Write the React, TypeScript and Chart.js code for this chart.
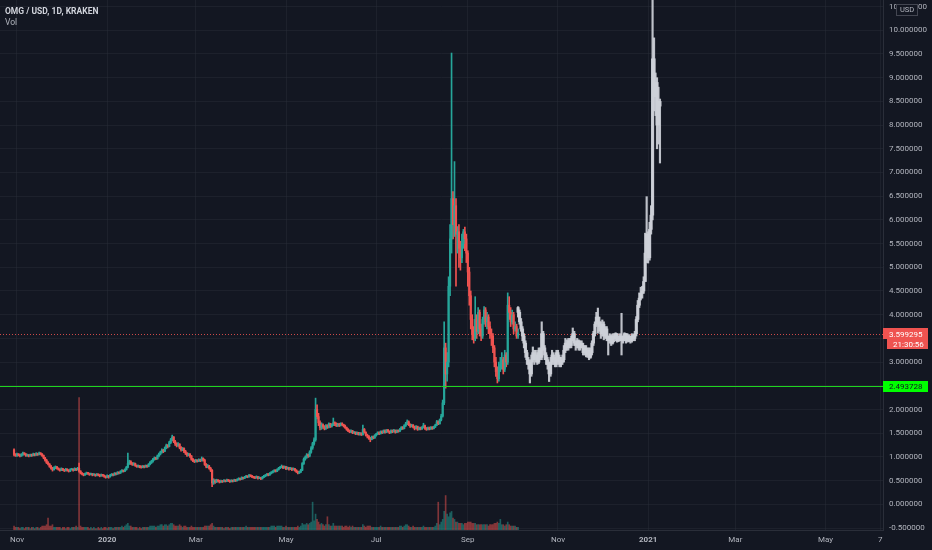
import React, { useEffect, useRef } from "react";
import { Chart, registerables } from "chart.js";
Chart.register(...registerables);

// Days are counted from 1 Nov 2019 (day 0).
const FIRST_DAY = -2;
const FIRST_OPEN = 1.15;
const closes = [
  1.05, 1.03, 1.06, 1.04, 1.02, 1.05, 1.08, 1.06, 1.03, 1.04,
  1.02, 1.05, 1.03, 1.06, 1.04, 1.07, 1.05, 1.08, 1.06, 1.03,
  0.98, 0.93, 0.88, 0.85, 0.80, 0.76, 0.73, 0.77, 0.79, 0.76,
  0.74, 0.72, 0.75, 0.73, 0.71, 0.74, 0.72, 0.70, 0.73, 0.74,
  0.72, 0.75, 0.73, 0.76, 0.70, 0.66, 0.64, 0.62, 0.64, 0.66,
  0.65, 0.63, 0.64, 0.62, 0.63, 0.61, 0.63, 0.62, 0.60, 0.62,
  0.61, 0.59, 0.57, 0.60, 0.58, 0.61, 0.63, 0.62, 0.65, 0.64,
  0.67, 0.66, 0.69, 0.71, 0.70, 0.73, 0.78, 0.86, 0.90, 0.87,
  0.84, 0.86, 0.82, 0.80, 0.81, 0.79, 0.78, 0.80, 0.79, 0.81,
  0.80, 0.84, 0.88, 0.91, 0.95, 0.98, 0.96, 1.02, 1.06, 1.10,
  1.14, 1.12, 1.19, 1.24, 1.22, 1.30, 1.36, 1.42, 1.33, 1.28,
  1.24, 1.27, 1.20, 1.15, 1.18, 1.12, 1.08, 1.04, 1.06, 1.02,
  0.95, 0.92, 0.90, 0.93, 0.91, 0.94, 0.92, 0.97, 0.93, 0.84,
  0.80, 0.81, 0.76, 0.72, 0.45, 0.50, 0.47, 0.51, 0.49, 0.47,
  0.49, 0.48, 0.50, 0.49, 0.51, 0.50, 0.48, 0.50, 0.49, 0.51,
  0.50, 0.52, 0.54, 0.53, 0.56, 0.55, 0.57, 0.59, 0.58, 0.61,
  0.60, 0.58, 0.57, 0.56, 0.58, 0.55, 0.56, 0.54, 0.57, 0.59,
  0.61, 0.63, 0.62, 0.65, 0.67, 0.69, 0.71, 0.70, 0.73, 0.76,
  0.78, 0.80, 0.77, 0.79, 0.75, 0.77, 0.74, 0.76, 0.73, 0.75,
  0.72, 0.69, 0.66, 0.68, 0.72, 0.86, 0.95, 0.99, 1.04, 1.02,
  1.10, 1.19, 1.28, 1.36, 2.00, 1.85, 1.72, 1.62, 1.68, 1.64,
  1.60, 1.66, 1.63, 1.70, 1.65, 1.68, 1.72, 1.70, 1.66, 1.69,
  1.67, 1.70, 1.68, 1.65, 1.62, 1.58, 1.55, 1.53, 1.55, 1.51,
  1.52, 1.49, 1.51, 1.48, 1.50, 1.47, 1.58, 1.52, 1.46, 1.44,
  1.40, 1.37, 1.42, 1.40, 1.45, 1.48, 1.51, 1.49, 1.53, 1.51,
  1.55, 1.52, 1.56, 1.54, 1.51, 1.55, 1.53, 1.56, 1.52, 1.55,
  1.54, 1.58, 1.62, 1.60, 1.66, 1.70, 1.74, 1.68, 1.65, 1.67,
  1.63, 1.60, 1.64, 1.58, 1.61, 1.59, 1.62, 1.66, 1.60, 1.58,
  1.61, 1.59, 1.62, 1.60, 1.63, 1.67, 1.74, 1.70, 1.78, 1.86,
  2.14, 3.30, 2.75, 3.00, 4.60, 5.60, 6.45, 5.90, 6.30, 5.70,
  5.75, 5.40, 5.20, 5.50, 5.75, 5.60, 5.30, 4.90, 4.40, 3.90,
  3.60, 3.50, 3.90, 3.65, 4.05, 3.70, 3.55, 3.90, 4.10, 3.85,
  3.95, 3.75, 3.60, 3.55, 3.30, 3.00, 2.80, 2.65, 2.90, 2.95,
  3.05, 2.85, 3.15, 3.00, 4.20, 4.05, 3.85, 4.00, 3.70, 3.75,
  3.55, 3.62,
];
const highs = [
  1.17, 1.07, 1.08, 1.07, 1.06, 1.07, 1.10, 1.09, 1.07, 1.06,
  1.05, 1.06, 1.06, 1.08, 1.07, 1.09, 1.08, 1.10, 1.09, 1.07,
  1.04, 0.99, 0.95, 0.90, 0.86, 0.82, 0.78, 0.79, 0.81, 0.80,
  0.77, 0.75, 0.77, 0.76, 0.74, 0.76, 0.75, 0.73, 0.75, 0.76,
  0.75, 0.77, 0.76, 0.78, 0.87, 0.71, 0.67, 0.65, 0.66, 0.68,
  0.67, 0.66, 0.66, 0.65, 0.65, 0.64, 0.65, 0.64, 0.63, 0.64,
  0.63, 0.62, 0.60, 0.62, 0.61, 0.63, 0.65, 0.64, 0.67, 0.66,
  0.69, 0.68, 0.71, 0.73, 0.72, 0.75, 0.80, 1.08, 0.93, 0.92,
  0.88, 0.88, 0.87, 0.83, 0.83, 0.82, 0.81, 0.82, 0.81, 0.83,
  0.83, 0.86, 0.90, 0.93, 0.97, 1.00, 0.99, 1.04, 1.08, 1.12,
  1.17, 1.16, 1.21, 1.27, 1.26, 1.33, 1.39, 1.46, 1.43, 1.35,
  1.30, 1.30, 1.28, 1.22, 1.20, 1.19, 1.14, 1.09, 1.08, 1.07,
  1.03, 0.97, 0.94, 0.95, 0.94, 0.96, 0.95, 1.00, 0.98, 0.95,
  0.86, 0.84, 0.82, 0.78, 0.73, 0.54, 0.52, 0.53, 0.52, 0.51,
  0.51, 0.50, 0.52, 0.51, 0.53, 0.52, 0.51, 0.52, 0.51, 0.53,
  0.52, 0.54, 0.56, 0.55, 0.58, 0.57, 0.59, 0.61, 0.60, 0.63,
  0.62, 0.61, 0.59, 0.58, 0.60, 0.59, 0.58, 0.57, 0.59, 0.61,
  0.63, 0.65, 0.65, 0.67, 0.69, 0.71, 0.73, 0.73, 0.75, 0.78,
  0.80, 0.83, 0.81, 0.81, 0.80, 0.79, 0.78, 0.78, 0.77, 0.77,
  0.76, 0.73, 0.70, 0.70, 0.74, 0.88, 0.98, 1.02, 1.07, 1.06,
  1.13, 1.22, 1.31, 1.40, 2.24, 2.10, 1.92, 1.76, 1.72, 1.70,
  1.66, 1.68, 1.68, 1.72, 1.71, 1.70, 1.82, 1.74, 1.72, 1.71,
  1.71, 1.72, 1.72, 1.69, 1.67, 1.63, 1.60, 1.57, 1.57, 1.56,
  1.54, 1.53, 1.53, 1.52, 1.52, 1.51, 1.67, 1.60, 1.53, 1.48,
  1.45, 1.41, 1.44, 1.44, 1.47, 1.50, 1.53, 1.53, 1.55, 1.55,
  1.57, 1.57, 1.58, 1.58, 1.55, 1.57, 1.57, 1.58, 1.57, 1.57,
  1.57, 1.60, 1.64, 1.64, 1.68, 1.73, 1.78, 1.76, 1.70, 1.69,
  1.68, 1.65, 1.66, 1.65, 1.63, 1.63, 1.64, 1.71, 1.67, 1.62,
  1.63, 1.63, 1.64, 1.64, 1.65, 1.69, 1.77, 1.76, 1.80, 1.90,
  2.20, 3.85, 3.40, 3.20, 4.80, 5.90, 9.52, 6.60, 7.23, 6.45,
  5.86, 5.90, 5.55, 5.70, 5.80, 5.85, 5.70, 5.35, 5.00, 4.50,
  4.00, 3.75, 4.38, 4.00, 4.15, 4.10, 3.80, 3.95, 4.17, 4.15,
  4.05, 4.00, 3.85, 3.70, 3.60, 3.35, 3.10, 2.90, 3.00, 3.10,
  3.20, 3.10, 3.25, 3.20, 4.46, 4.38, 4.15, 4.10, 4.05, 3.85,
  3.80, 3.70,
];
const lows = [
  1.02, 1.01, 1.01, 1.02, 1.00, 1.01, 1.03, 1.04, 1.01, 1.01,
  1.00, 1.01, 1.01, 1.02, 1.02, 1.03, 1.03, 1.04, 1.04, 1.01,
  0.96, 0.91, 0.86, 0.83, 0.78, 0.74, 0.70, 0.72, 0.75, 0.74,
  0.72, 0.70, 0.71, 0.71, 0.69, 0.70, 0.70, 0.68, 0.69, 0.72,
  0.70, 0.71, 0.71, 0.72, 0.68, 0.64, 0.62, 0.60, 0.61, 0.63,
  0.63, 0.61, 0.62, 0.60, 0.61, 0.59, 0.60, 0.60, 0.58, 0.59,
  0.59, 0.57, 0.55, 0.56, 0.55, 0.57, 0.60, 0.60, 0.61, 0.62,
  0.63, 0.64, 0.65, 0.68, 0.68, 0.69, 0.72, 0.77, 0.84, 0.84,
  0.82, 0.82, 0.80, 0.78, 0.78, 0.77, 0.76, 0.77, 0.77, 0.78,
  0.78, 0.79, 0.83, 0.86, 0.89, 0.93, 0.94, 0.95, 1.00, 1.04,
  1.08, 1.09, 1.11, 1.17, 1.19, 1.21, 1.28, 1.34, 1.30, 1.24,
  1.21, 1.22, 1.17, 1.12, 1.13, 1.09, 1.05, 1.01, 1.02, 0.99,
  0.93, 0.90, 0.88, 0.89, 0.89, 0.90, 0.90, 0.91, 0.91, 0.82,
  0.77, 0.77, 0.74, 0.69, 0.37, 0.42, 0.44, 0.46, 0.47, 0.45,
  0.46, 0.46, 0.47, 0.47, 0.48, 0.48, 0.46, 0.47, 0.47, 0.48,
  0.48, 0.49, 0.51, 0.51, 0.52, 0.53, 0.54, 0.56, 0.56, 0.57,
  0.58, 0.56, 0.55, 0.54, 0.55, 0.53, 0.54, 0.52, 0.53, 0.56,
  0.58, 0.60, 0.60, 0.61, 0.64, 0.66, 0.68, 0.68, 0.69, 0.72,
  0.75, 0.77, 0.75, 0.76, 0.73, 0.74, 0.72, 0.73, 0.71, 0.72,
  0.70, 0.67, 0.64, 0.65, 0.67, 0.71, 0.84, 0.93, 0.97, 0.99,
  1.00, 1.08, 1.16, 1.25, 1.33, 1.80, 1.66, 1.57, 1.58, 1.60,
  1.57, 1.58, 1.60, 1.61, 1.62, 1.63, 1.66, 1.66, 1.64, 1.64,
  1.64, 1.65, 1.66, 1.63, 1.60, 1.56, 1.53, 1.51, 1.51, 1.49,
  1.49, 1.47, 1.47, 1.46, 1.46, 1.45, 1.46, 1.50, 1.44, 1.40,
  1.37, 1.32, 1.36, 1.38, 1.39, 1.44, 1.47, 1.47, 1.48, 1.49,
  1.50, 1.50, 1.51, 1.52, 1.49, 1.50, 1.51, 1.52, 1.50, 1.51,
  1.52, 1.53, 1.57, 1.58, 1.59, 1.64, 1.68, 1.66, 1.62, 1.63,
  1.61, 1.57, 1.59, 1.56, 1.57, 1.57, 1.58, 1.61, 1.58, 1.56,
  1.57, 1.57, 1.58, 1.58, 1.59, 1.62, 1.66, 1.68, 1.69, 1.76,
  1.84, 2.10, 2.45, 2.60, 2.90, 4.40, 5.30, 5.60, 5.65, 4.60,
  5.30, 5.00, 4.94, 5.10, 5.40, 5.35, 5.10, 4.60, 4.20, 3.70,
  3.47, 3.40, 3.45, 3.50, 3.60, 3.55, 3.45, 3.50, 3.80, 3.75,
  3.70, 3.60, 3.50, 3.35, 3.20, 2.90, 2.70, 2.56, 2.60, 2.80,
  2.85, 2.75, 2.80, 2.90, 2.95, 3.90, 3.75, 3.80, 3.60, 3.65,
  3.50, 3.50,
];
const volumes = [
  3, 2, 2, 2, 1, 2, 2, 1, 2, 2,
  2, 1, 2, 2, 1, 2, 2, 1, 2, 3,
  3, 3, 4, 9, 3, 3, 4, 2, 2, 2,
  2, 2, 1, 2, 2, 1, 2, 2, 1, 2,
  2, 2, 3, 2, 100, 3, 2, 2, 2, 2,
  2, 1, 2, 1, 2, 1, 1, 2, 1, 2,
  1, 2, 2, 1, 2, 2, 2, 1, 2, 2,
  2, 2, 2, 3, 2, 3, 4, 5, 3, 3,
  2, 2, 2, 2, 1, 2, 1, 2, 2, 2,
  2, 2, 3, 3, 3, 3, 2, 3, 3, 4,
  4, 3, 4, 4, 3, 4, 5, 5, 4, 3,
  3, 3, 4, 3, 2, 3, 3, 2, 2, 2,
  3, 2, 2, 2, 2, 2, 2, 2, 2, 3,
  3, 3, 3, 4, 5, 3, 2, 2, 2, 2,
  2, 2, 1, 2, 2, 2, 1, 2, 2, 2,
  2, 2, 2, 2, 2, 2, 2, 3, 2, 2,
  2, 2, 2, 2, 2, 2, 2, 2, 2, 2,
  2, 2, 2, 2, 3, 3, 3, 2, 3, 3,
  3, 3, 2, 2, 3, 2, 2, 2, 2, 2,
  2, 2, 3, 2, 3, 5, 4, 4, 5, 4,
  5, 6, 21, 7, 12, 8, 6, 4, 5, 4,
  3, 4, 10, 4, 3, 3, 5, 3, 3, 3,
  3, 3, 3, 2, 3, 3, 2, 3, 2, 3,
  2, 2, 2, 2, 2, 2, 4, 3, 2, 3,
  3, 3, 2, 2, 2, 2, 2, 2, 3, 2,
  2, 2, 2, 2, 2, 2, 2, 2, 2, 2,
  2, 3, 3, 2, 3, 4, 4, 3, 2, 2,
  3, 2, 2, 2, 2, 2, 2, 3, 2, 2,
  2, 2, 2, 2, 2, 3, 5, 21, 4, 6,
  8, 14, 26, 12, 10, 13, 14, 9, 8, 6,
  6, 5, 5, 5, 4, 5, 5, 6, 6, 6,
  5, 5, 5, 4, 4, 4, 4, 4, 4, 4,
  4, 3, 4, 4, 4, 5, 5, 6, 5, 8,
  4, 4, 3, 4, 6, 4, 3, 3, 3, 3,
  2, 2,
];

// Grey bars pattern drawn on the chart (continuation to Jan 2021)
const GRAY_FIRST_DAY = 339;
const GRAY_FIRST_OPEN = 4.15;
const grayCloses = [
  4.05, 3.85, 3.70, 3.55, 3.40, 3.20, 3.05, 2.95, 2.75, 3.05,
  3.20, 3.05, 3.15, 3.00, 3.25, 3.10, 3.60, 3.30, 3.15, 3.05,
  2.95, 2.75, 3.00, 3.15, 3.05, 2.95, 3.20, 3.10, 2.95, 3.00,
  3.05, 3.25, 3.40, 3.30, 3.45, 3.35, 3.50, 3.60, 3.40, 3.35,
  3.45, 3.30, 3.40, 3.35, 3.20, 3.30, 3.15, 3.25, 3.10, 3.20,
  3.40, 3.60, 3.80, 3.95, 3.85, 3.75, 3.60, 3.80, 3.55, 3.70,
  3.50, 3.45, 3.55, 3.40, 3.55, 3.50, 3.60, 3.45, 3.50, 3.55,
  3.45, 3.50, 3.60, 3.45, 3.55, 3.50, 3.45, 3.55, 3.50, 3.60,
  3.90, 4.20, 4.35, 4.45, 4.50, 4.70, 5.30, 5.70, 5.20, 5.80,
  6.10, 9.40, 8.60, 8.90, 8.00, 8.50, 8.40,
];
const grayHighs = [
  4.17, 4.10, 3.92, 3.75, 3.60, 3.45, 3.25, 3.10, 3.00, 3.15,
  3.32, 3.25, 3.25, 3.20, 3.30, 3.30, 3.85, 3.65, 3.35, 3.20,
  3.10, 3.00, 3.10, 3.25, 3.20, 3.10, 3.25, 3.25, 3.15, 3.10,
  3.15, 3.35, 3.50, 3.47, 3.50, 3.50, 3.55, 3.72, 3.65, 3.45,
  3.50, 3.47, 3.45, 3.45, 3.40, 3.35, 3.35, 3.30, 3.30, 3.30,
  3.45, 3.65, 3.85, 4.05, 4.14, 3.95, 3.85, 3.89, 3.85, 3.75,
  3.75, 3.55, 3.60, 3.58, 3.60, 3.60, 3.62, 3.60, 3.55, 3.60,
  4.03, 3.55, 3.62, 3.60, 3.60, 3.58, 3.55, 3.60, 3.58, 3.65,
  3.96, 4.30, 4.46, 4.58, 4.60, 4.80, 5.72, 6.49, 5.75, 5.95,
  6.30, 11.30, 9.84, 9.10, 9.00, 8.80, 8.55,
];
const grayLows = [
  3.95, 3.80, 3.65, 3.45, 3.30, 3.10, 2.95, 2.85, 2.56, 2.70,
  3.00, 2.95, 3.00, 2.95, 2.97, 3.05, 3.05, 3.25, 3.05, 2.95,
  2.85, 2.59, 2.70, 2.95, 2.95, 2.90, 2.90, 3.00, 2.90, 2.90,
  2.95, 3.00, 3.20, 3.25, 3.25, 3.30, 3.30, 3.45, 3.35, 3.25,
  3.30, 3.25, 3.25, 3.30, 3.15, 3.15, 3.11, 3.10, 3.05, 3.08,
  3.15, 3.35, 3.55, 3.75, 3.61, 3.65, 3.50, 3.55, 3.47, 3.50,
  3.45, 3.15, 3.40, 3.35, 3.38, 3.43, 3.45, 3.42, 3.43, 3.45,
  3.15, 3.40, 3.45, 3.40, 3.42, 3.43, 3.40, 3.42, 3.45, 3.45,
  3.55, 3.85, 4.15, 4.31, 4.35, 4.45, 4.70, 5.10, 5.09, 5.15,
  5.70, 6.00, 8.30, 8.20, 7.50, 7.60, 7.20,
];

const xTickDays = [0, 61, 121, 182, 243, 305, 366, 427, 486, 547, 584];
const xTickLabels = ["Nov", "2020", "Mar", "May", "Jul", "Sep", "Nov", "2021", "Mar", "May", "7"];
const yTickValues = [
  -0.5, 0, 0.5, 1, 1.5, 2, 2.5, 3, 3.5, 4, 4.5, 5, 5.5, 6, 6.5, 7, 7.5, 8, 8.5, 9, 9.5, 10, 10.5,
];
const X_MIN = -11.5;
const X_MAX = 585.9;
const Y_MIN = -0.542;
const Y_MAX = 10.639;
const VOL_MAX = 400;

const LAST_PRICE = 3.599295;
const COUNTDOWN = "21:30:56";
const LEVEL_PRICE = 2.493728;

const UP = "#26a69a";
const DOWN = "#ef5350";
const UP_VOL = "rgba(38,166,154,0.5)";
const DOWN_VOL = "rgba(239,83,80,0.5)";
const GRAY = "rgba(205,208,216,0.92)";
const BG = "#131722";
const GRID = "rgba(42,46,57,0.45)";
const AXIS_TEXT = "#b2b5be";
const FONT = "Roboto, 'DejaVu Sans', sans-serif";

const priceLines = {
  id: "priceLines",
  beforeDatasetsDraw(chart: any) {
    const { ctx, chartArea } = chart;
    const y = chart.scales.y;
    ctx.save();
    const yr = Math.round(y.getPixelForValue(LAST_PRICE)) + 0.5;
    ctx.strokeStyle = "rgba(239,83,80,0.85)";
    ctx.lineWidth = 1;
    ctx.setLineDash([1, 2]);
    ctx.beginPath();
    ctx.moveTo(chartArea.left, yr);
    ctx.lineTo(chartArea.right, yr);
    ctx.stroke();
    ctx.restore();
  },
  afterDatasetsDraw(chart: any) {
    const { ctx, chartArea } = chart;
    const y = chart.scales.y;
    ctx.save();
    const yg = Math.round(y.getPixelForValue(LEVEL_PRICE)) + 0.5;
    ctx.strokeStyle = "#1fd41f";
    ctx.lineWidth = 1;
    ctx.setLineDash([]);
    ctx.beginPath();
    ctx.moveTo(chartArea.left, yg);
    ctx.lineTo(chartArea.right, yg);
    ctx.stroke();
    ctx.restore();
  },
  afterDraw(chart: any) {
    const { ctx, chartArea, width } = chart;
    const y = chart.scales.y;
    const right = width - 4;
    ctx.save();
    ctx.font = `8px ${FONT}`;
    ctx.textBaseline = "middle";
    ctx.textAlign = "left";
    // last price
    const yr = y.getPixelForValue(LAST_PRICE);
    ctx.fillStyle = DOWN;
    ctx.fillRect(chartArea.right, Math.round(yr - 5.5), right - chartArea.right, 11);
    ctx.fillRect(chartArea.right + 4, Math.round(yr + 5.5), right - chartArea.right - 4, 10);
    ctx.fillStyle = "#ffffff";
    ctx.fillText(LAST_PRICE.toFixed(6), chartArea.right + 6, Math.round(yr) + 0.5);
    ctx.fillText(COUNTDOWN, chartArea.right + 10, Math.round(yr + 10.5) + 0.5);
    // level
    const yg = y.getPixelForValue(LEVEL_PRICE);
    ctx.fillStyle = "#00ff00";
    ctx.fillRect(chartArea.right, Math.round(yg - 5.5), right - chartArea.right, 11);
    ctx.fillStyle = "#131722";
    ctx.fillText(LEVEL_PRICE.toFixed(6), chartArea.right + 6, Math.round(yg) + 0.5);
    // currency box
    ctx.fillStyle = BG;
    ctx.fillRect(896, 4, 22, 12);
    ctx.strokeStyle = "#434651";
    ctx.strokeRect(896.5, 4.5, 21, 11);
    ctx.fillStyle = AXIS_TEXT;
    ctx.font = `7.5px ${FONT}`;
    ctx.textAlign = "center";
    ctx.fillText("USD", 907, 10.5);
    ctx.restore();
  },
};

export default function App() {
  const ref = useRef<HTMLCanvasElement>(null);

  useEffect(() => {
    const wick: any[] = [];
    const body: any[] = [];
    const colors: string[] = [];
    const vol: any[] = [];
    const volColors: string[] = [];
    closes.forEach((c, i) => {
      const d = FIRST_DAY + i;
      const o = i === 0 ? FIRST_OPEN : closes[i - 1];
      const h = Math.max(highs[i], o, c);
      const l = Math.min(lows[i], o, c);
      wick.push({ x: d, y: [l, h] });
      body.push({ x: d, y: [Math.min(o, c), Math.max(o, c)] });
      colors.push(c >= o ? UP : DOWN);
      vol.push({ x: d, y: volumes[i] });
      volColors.push(c >= o ? UP_VOL : DOWN_VOL);
    });
    const gWick: any[] = [];
    const gBody: any[] = [];
    grayCloses.forEach((c, i) => {
      const d = GRAY_FIRST_DAY + i;
      const o = i === 0 ? GRAY_FIRST_OPEN : grayCloses[i - 1];
      const h = Math.max(grayHighs[i], o, c);
      const l = Math.min(grayLows[i], o, c);
      gWick.push({ x: d, y: [l, h] });
      gBody.push({ x: d, y: [Math.min(o, c), Math.max(o, c)] });
    });

    const chart = new Chart(ref.current as HTMLCanvasElement, {
      type: "bar",
      data: {
        datasets: [
          { data: vol, yAxisID: "yv", backgroundColor: volColors, barThickness: 1, grouped: false, order: 6 } as any,
          { data: gWick, backgroundColor: GRAY, barThickness: 1.5, grouped: false, minBarLength: 1, order: 4 } as any,
          { data: gBody, backgroundColor: GRAY, barThickness: 2.5, grouped: false, minBarLength: 1, order: 3 } as any,
          { data: wick, backgroundColor: colors, barThickness: 1, grouped: false, minBarLength: 1, order: 2 } as any,
          { data: body, backgroundColor: colors, barThickness: 1.5, grouped: false, minBarLength: 1, order: 1 } as any,
        ],
      },
      options: {
        animation: false,
        responsive: false,
        devicePixelRatio: 1,
        layout: { padding: 0 },
        plugins: { legend: { display: false }, tooltip: { enabled: false } },
        scales: {
          x: {
            type: "linear",
            min: X_MIN,
            max: X_MAX,
            offset: false,
            grid: { color: GRID, offset: false, drawTicks: false },
            border: { color: "#2a2e39" },
            afterBuildTicks: (scale: any) => {
              scale.ticks = xTickDays.map((v) => ({ value: v }));
            },
            afterFit: (scale: any) => {
              scale.height = 20;
              scale.paddingLeft = 0;
              scale.paddingRight = 0;
            },
            ticks: {
              autoSkip: false,
              maxRotation: 0,
              padding: 5,
              color: AXIS_TEXT,
              font: (c: any) => ({
                family: FONT,
                size: 8,
                weight: /^\d{4}$/.test(xTickLabels[c.index] || "") ? "bold" : "normal",
              }),
              callback: (_v: any, i: number) => xTickLabels[i],
            },
          },
          y: {
            position: "right",
            min: Y_MIN,
            max: Y_MAX,
            grid: { color: GRID, drawTicks: false },
            border: { color: "#2a2e39" },
            afterBuildTicks: (scale: any) => {
              scale.ticks = yTickValues.map((v) => ({ value: v }));
            },
            afterFit: (scale: any) => {
              scale.width = 49;
              scale.paddingTop = 0;
              scale.paddingBottom = 0;
            },
            ticks: {
              padding: 6,
              color: AXIS_TEXT,
              font: { family: FONT, size: 8 },
              callback: (v: any) => Number(v).toFixed(6),
            },
          },
          yv: { display: false, min: 0, max: VOL_MAX },
        },
      } as any,
      plugins: [priceLines],
    });
    return () => chart.destroy();
  }, []);

  return (
    <div style={{ position: "fixed", left: 0, top: 0, width: 932, height: 550, background: BG, overflow: "hidden" }}>
      <canvas ref={ref} width={932} height={550} style={{ display: "block" }} />
      <div
        style={{
          position: "absolute",
          left: 5,
          top: 5,
          fontFamily: FONT,
          fontSize: 8.5,
          fontWeight: "bold",
          color: "#d1d4dc",
          lineHeight: "12px",
          whiteSpace: "nowrap",
        }}
      >
        OMG / USD, 1D, KRAKEN
      </div>
      <div
        style={{
          position: "absolute",
          left: 5,
          top: 16,
          fontFamily: FONT,
          fontSize: 8.5,
          color: AXIS_TEXT,
          lineHeight: "12px",
        }}
      >
        Vol
      </div>
    </div>
  );
}
